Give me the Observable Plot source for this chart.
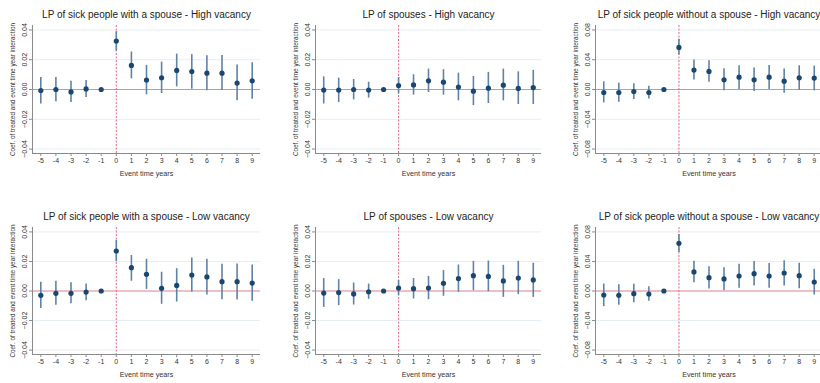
<!DOCTYPE html>
<html><head><meta charset="utf-8">
<script src="https://cdn.jsdelivr.net/npm/d3@7"></script>
<script src="https://cdn.jsdelivr.net/npm/@observablehq/plot@0.6"></script>
<style>
body{margin:0;background:#fff;}
#root{position:relative;width:820px;height:383px;overflow:hidden;background:#fff;font-family:"Liberation Sans",Arial,sans-serif;}
#root svg{position:absolute;overflow:visible;}
</style></head>
<body><div id="root"></div>
<script>
const years = [-5,-4,-3,-2,-1,0,1,2,3,4,5,6,7,8,9];
const titles = [
  "LP of sick people with a spouse - High vacancy",
  "LP of spouses - High vacancy",
  "LP of sick people without a spouse - High vacancy",
  "LP of sick people with a spouse - Low vacancy",
  "LP of spouses - Low vacancy",
  "LP of sick people without a spouse - Low vacancy"
];
const yLabel = "Coef. of treated and event time year interaction";
const xLabel = "Event time years";
const yTicksSmall = [-0.04,-0.02,0,0.02,0.04];
const yTicksLarge = [-0.08,-0.04,0,0.04,0.08];

// Panel 1: sick with spouse, high vacancy
const p1Est = [-0.0007,0.0000,-0.0016,0.0004,0,0.0326,0.0162,0.0063,0.0079,0.0128,0.0121,0.0110,0.0110,0.0043,0.0058];
const p1Hi  = [0.0081,0.0081,0.0056,0.0061,null,0.0389,0.0252,0.0162,0.0184,0.0238,0.0234,0.0227,0.0229,0.0164,0.0180];
const p1Lo  = [-0.0097,-0.0083,-0.0088,-0.0054,null,0.0258,0.0072,-0.0036,-0.0027,0.0018,0.0002,-0.0009,-0.0007,-0.0076,-0.0065];
// Panel 2: spouses, high vacancy
const p2Est = [-0.0004,-0.0004,0.0000,-0.0004,0,0.0027,0.0031,0.0058,0.0049,0.0016,-0.0011,0.0009,0.0029,0.0007,0.0013];
const p2Hi  = [0.0085,0.0076,0.0067,0.0049,null,0.0081,0.0099,0.0137,0.0133,0.0110,0.0088,0.0115,0.0137,0.0119,0.0128];
const p2Lo  = [-0.0097,-0.0088,-0.0070,-0.0058,null,-0.0029,-0.0038,-0.0020,-0.0038,-0.0076,-0.0108,-0.0094,-0.0076,-0.0101,-0.0101];
// Panel 3: sick without spouse, high vacancy
const p3Est = [-0.0040,-0.0040,-0.0027,-0.0040,0,0.0566,0.0261,0.0243,0.0130,0.0166,0.0130,0.0166,0.0112,0.0157,0.0153];
const p3Hi  = [0.0103,0.0085,0.0076,0.0045,null,0.0674,0.0396,0.0387,0.0279,0.0319,0.0288,0.0324,0.0274,0.0319,0.0315];
const p3Lo  = [-0.0180,-0.0171,-0.0135,-0.0126,null,0.0463,0.0126,0.0099,-0.0018,0.0000,-0.0027,0.0000,-0.0049,-0.0009,-0.0018];
// Panel 4: sick with spouse, low vacancy
const p4Est = [-0.0029,-0.0016,-0.0016,-0.0007,0,0.0271,0.0158,0.0113,0.0018,0.0038,0.0108,0.0095,0.0063,0.0063,0.0054];
const p4Hi  = [0.0059,0.0066,0.0056,0.0047,null,0.0343,0.0240,0.0215,0.0127,0.0151,0.0224,0.0215,0.0181,0.0183,0.0176];
const p4Lo  = [-0.0118,-0.0097,-0.0086,-0.0066,null,0.0199,0.0066,0.0011,-0.0090,-0.0075,-0.0007,-0.0027,-0.0059,-0.0061,-0.0070];
// Panel 5: spouses, low vacancy
const p5Est = [-0.0014,-0.0011,-0.0020,-0.0005,0,0.0020,0.0016,0.0020,0.0052,0.0084,0.0104,0.0099,0.0068,0.0088,0.0075];
const p5Hi  = [0.0084,0.0077,0.0054,0.0047,null,0.0072,0.0084,0.0099,0.0138,0.0176,0.0201,0.0203,0.0174,0.0201,0.0188];
const p5Lo  = [-0.0111,-0.0099,-0.0095,-0.0056,null,-0.0032,-0.0054,-0.0059,-0.0036,-0.0009,0.0002,-0.0005,-0.0043,-0.0025,-0.0043];
// Panel 6: sick without spouse, low vacancy
const p6Est = [-0.0054,-0.0059,-0.0036,-0.0041,0,0.0646,0.0258,0.0181,0.0163,0.0203,0.0235,0.0203,0.0244,0.0208,0.0122];
const p6Hi  = [0.0095,0.0086,0.0090,0.0059,null,0.0764,0.0402,0.0330,0.0316,0.0362,0.0398,0.0371,0.0411,0.0375,0.0294];
const p6Lo  = [-0.0212,-0.0194,-0.0158,-0.0140,null,0.0520,0.0113,0.0027,0.0005,0.0036,0.0068,0.0036,0.0068,0.0032,-0.0054];

const panels = [
  {est:p1Est, lo:p1Lo, hi:p1Hi, ticks:yTicksSmall, title:titles[0], left:0,   top:0,   ml:32, mr:13, w:273},
  {est:p2Est, lo:p2Lo, hi:p2Hi, ticks:yTicksSmall, title:titles[1], left:275, top:0,   ml:40, mr:9,  w:275},
  {est:p3Est, lo:p3Lo, hi:p3Hi, ticks:yTicksLarge, title:titles[2], left:555, top:0,   ml:40, mr:10, w:277},
  {est:p4Est, lo:p4Lo, hi:p4Hi, ticks:yTicksSmall, title:titles[3], left:0,   top:190, ml:32, mr:13, w:273},
  {est:p5Est, lo:p5Lo, hi:p5Hi, ticks:yTicksSmall, title:titles[4], left:275, top:190, ml:40, mr:9,  w:275},
  {est:p6Est, lo:p6Lo, hi:p6Hi, ticks:yTicksLarge, title:titles[5], left:555, top:190, ml:40, mr:10, w:277}
];

const xDomain = [-5.55, 9.55];
const root = document.getElementById("root");
const navy = "#1a476f";
const ciColor = "#5f82a8";
const zeroColor = "#e88a94";
const vColor = "#e8738c";
const gridColor = "#e6eef1";
const axisColor = "#8a8a8a";
const textColor = "#333";

panels.forEach((p, i) => {
  const top = i < 3;
  const ymax = p.ticks[p.ticks.length-1] * 1.075;
  const yDomain = [-ymax, ymax];
  const data = years.map((yr, k) => ({yr, est:p.est[k], lo:p.lo[k], hi:p.hi[k]}));
  const ci = data.filter(d => d.lo != null);
  const fmt = d3.format(".2f");
  const chart = Plot.plot({
    width: p.w,
    height: top ? 190 : 193,
    marginLeft: p.ml,
    marginRight: p.mr,
    marginTop: top ? 25 : 37,
    marginBottom: top ? 37 : 29,
    style: {fontFamily: '"Liberation Sans", Arial, sans-serif', fontSize: "7px", background: "transparent", color: textColor},
    x: {domain: xDomain},
    y: {domain: yDomain},
    marks: [
      Plot.gridY(p.ticks, {stroke: gridColor, strokeOpacity: 1, strokeWidth: 1}),
      Plot.ruleY([0], {stroke: zeroColor, strokeWidth: 1.1}),
      Plot.ruleX([0], {stroke: vColor, strokeWidth: 1.1, strokeDasharray: "2,1.5"}),
      Plot.ruleX(ci, {x: "yr", y1: "lo", y2: "hi", stroke: ciColor, strokeWidth: 1.6}),
      Plot.dot(data, {x: "yr", y: "est", r: 2.6, fill: navy, stroke: "none"}),
      Plot.ruleX([xDomain[0]], {stroke: axisColor, strokeWidth: 1}),
      Plot.ruleY([yDomain[0]], {stroke: axisColor, strokeWidth: 1}),
      Plot.axisY(p.ticks, {tickSize: 3, tickFormat: () => "", label: null, stroke: axisColor}),
      Plot.text(p.ticks, {x: xDomain[0], y: d => d, text: d => fmt(d), rotate: -90, dx: -8, fontSize: 7, fill: textColor}),
      Plot.axisX(years, {tickSize: 3, tickPadding: 2, label: null, fontSize: 7, stroke: axisColor, fill: textColor, tickFormat: d => String(d)}),
      Plot.text([yLabel], {frameAnchor: "left", textAnchor: "middle", rotate: -90, dx: -20, fontSize: 6.4, fill: textColor}),
      Plot.text([xLabel], {frameAnchor: "bottom", dy: 22, fontSize: 7.2, fill: textColor}),
      Plot.text([p.title], {frameAnchor: "top", dy: -8, lineAnchor: "bottom", fontSize: 10, fill: "#222"})
    ]
  });
  chart.style.left = p.left + "px";
  chart.style.top = p.top + "px";
  root.appendChild(chart);
});
</script></body></html>
